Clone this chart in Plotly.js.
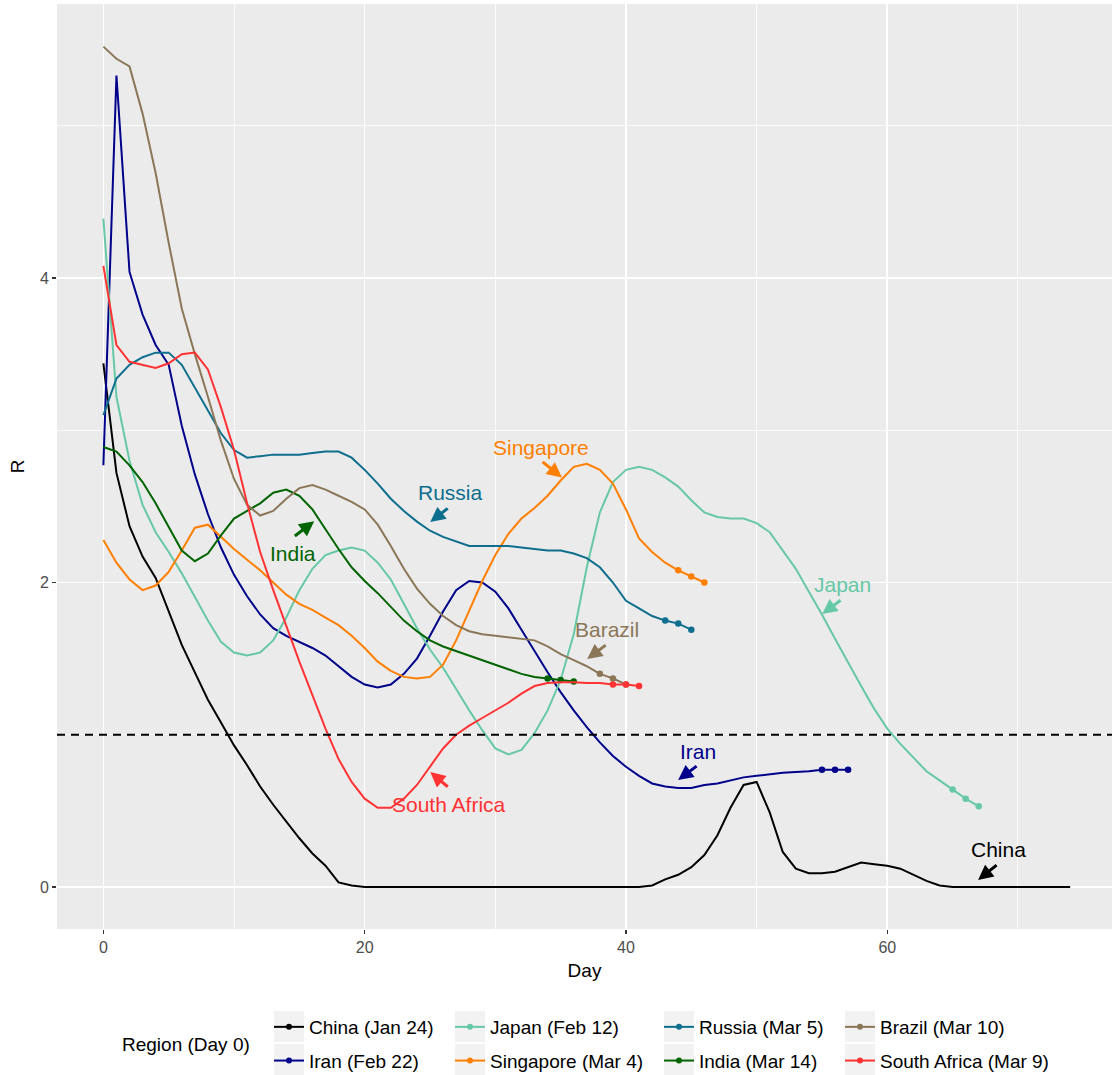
<!DOCTYPE html>
<html>
<head>
<meta charset="utf-8">
<script src="https://cdn.plot.ly/plotly-3.0.1.min.js"></script>
<style>html,body{margin:0;padding:0;background:#fff;}#chart{width:1112px;height:1075px;}</style>
</head>
<body>
<div id="chart"></div>
<script>
// ---- data (R by day since Day 0) ----
const regions = ["China", "Iran", "Japan", "Singapore", "Russia", "India", "Brazil", "South Africa"];
const legendLabels = ["China (Jan 24)", "Iran (Feb 22)", "Japan (Feb 12)", "Singapore (Mar 4)", "Russia (Mar 5)", "India (Mar 14)", "Brazil (Mar 10)", "South Africa (Mar 9)"];

const chinaR = [3.44,2.72,2.37,2.17,2.03,1.81,1.59,1.41,1.23,1.08,0.93,0.80,0.66,0.54,0.43,0.32,0.22,0.14,0.03,0.01,
  0,0,0,0,0,0,0,0,0,0,0,0,0,0,0,0,0,0,0,0,0,0,
  0.01,0.05,0.08,0.13,0.21,0.34,0.52,0.67,0.69,0.49,0.23,0.12,0.09,0.09,0.10,0.13,0.16,0.15,0.14,0.12,0.08,0.04,0.01,
  0,0,0,0,0,0,0,0,0,0];
const iranR = [2.77,5.33,4.04,3.76,3.56,3.43,3.03,2.71,2.45,2.23,2.05,1.91,1.79,1.70,1.65,1.61,1.57,1.52,1.45,1.38,
  1.33,1.31,1.33,1.40,1.50,1.65,1.81,1.95,2.01,2.00,1.94,1.83,1.69,1.55,1.41,1.28,1.16,1.05,0.95,0.86,
  0.79,0.73,0.68,0.66,0.65,0.65,0.67,0.68,0.70,0.72,0.73,0.74,0.75,0.755,0.76,0.77,0.77,0.77];
const japanR = [4.39,3.22,2.80,2.51,2.33,2.20,2.06,1.90,1.75,1.61,1.54,1.52,1.54,1.62,1.77,1.95,2.09,2.18,2.21,2.23,
  2.21,2.13,2.02,1.86,1.70,1.56,1.44,1.30,1.16,1.03,0.91,0.87,0.90,1.01,1.16,1.36,1.66,2.10,2.46,2.66,
  2.74,2.76,2.74,2.69,2.63,2.54,2.46,2.43,2.42,2.42,2.39,2.33,2.21,2.09,1.94,1.79,1.63,1.47,1.32,1.17,
  1.04,0.94,0.85,0.76,0.70,0.64,0.58,0.53];
const singaporeR = [2.28,2.13,2.02,1.95,1.98,2.07,2.21,2.36,2.38,2.30,2.22,2.15,2.08,2.00,1.92,1.86,1.82,1.77,1.72,1.65,
  1.57,1.48,1.42,1.38,1.37,1.38,1.46,1.62,1.82,2.01,2.18,2.32,2.42,2.49,2.57,2.67,2.76,2.78,2.74,2.65,
  2.48,2.29,2.20,2.13,2.08,2.04,2.00];
const russiaR = [3.10,3.34,3.43,3.48,3.51,3.51,3.43,3.28,3.13,2.98,2.87,2.82,2.83,2.84,2.84,2.84,2.85,2.86,2.86,2.82,
  2.74,2.65,2.55,2.47,2.40,2.34,2.30,2.27,2.24,2.24,2.24,2.24,2.23,2.22,2.21,2.21,2.19,2.16,2.10,2.00,
  1.88,1.83,1.78,1.75,1.73,1.69];
const indiaR = [2.89,2.86,2.77,2.66,2.52,2.36,2.21,2.14,2.19,2.31,2.42,2.47,2.52,2.59,2.61,2.57,2.48,2.35,2.22,2.10,
  2.01,1.93,1.84,1.75,1.68,1.62,1.58,1.55,1.52,1.49,1.46,1.43,1.40,1.38,1.37,1.36,1.35];
const brazilR = [5.52,5.44,5.39,5.08,4.69,4.23,3.80,3.50,3.22,2.93,2.68,2.51,2.44,2.47,2.55,2.62,2.64,2.61,2.57,2.53,
  2.48,2.38,2.24,2.09,1.96,1.86,1.78,1.72,1.68,1.66,1.65,1.64,1.63,1.62,1.58,1.53,1.49,1.45,1.40,1.37,1.33];
const southAfricaR = [4.08,3.56,3.45,3.43,3.41,3.44,3.50,3.51,3.40,3.15,2.87,2.52,2.20,1.95,1.71,1.48,1.26,1.04,0.84,0.69,
  0.58,0.52,0.52,0.58,0.67,0.79,0.91,1.00,1.06,1.11,1.16,1.21,1.27,1.32,1.34,1.345,1.345,1.34,1.34,1.33,
  1.33,1.32];
const seriesR = [chinaR, iranR, japanR, singaporeR, russiaR, indiaR, brazilR, southAfricaR];
const showEndPoints = [false, true, true, true, true, true, true, true];
const thresholdR = 1;
const xTicks = [0, 20, 40, 60];
const yTicks = [0, 2, 4];
const legendTitle = "Region (Day 0)";

// ---- styles ----
const colors = ["#000000", "#00008B", "#66C8A6", "#FF7F00", "#0E6E8E", "#006400", "#8B7758", "#FF3333"];
const FONT = "Liberation Sans, Arial, sans-serif";
// legend column of each region (ggplot fills columns top-to-bottom)
const legendColumn = ["legend", "legend", "legend2", "legend2", "legend3", "legend3", "legend4", "legend4"];
const colX = [271, 452, 661, 842];   // px positions of legend key boxes
const PLOT_L = 57, PLOT_W = 1055, PLOT_T = 4, PLOT_H = 925;

const traces = [];
regions.forEach((r, i) => {
  const ys = seriesR[i];
  const xs = ys.map((_, k) => k);
  traces.push({
    x: xs, y: ys, type: "scatter", mode: "lines", name: legendLabels[i],
    line: {color: colors[i], width: 2}, showlegend: false
  });
  if (showEndPoints[i]) {
    traces.push({
      x: xs.slice(-3), y: ys.slice(-3), type: "scatter", mode: "markers", name: legendLabels[i],
      marker: {color: colors[i], size: 6.5}, showlegend: false
    });
  }
});
regions.forEach((r, i) => {
  traces.push({
    x: [null], y: [null], type: "scatter", mode: "lines+markers", name: legendLabels[i],
    line: {color: colors[i], width: 2}, marker: {color: colors[i], size: 6}, showlegend: true,
    legend: legendColumn[i], legendgroup: "g" + i
  });
});

// label annotations: [regionIndex, label, textX, textY, tailX, tailY, headX, headY]
const labels = [
  [3, "Singapore", 33.5, 2.89, 33.5, 2.80, 35.1, 2.69],
  [4, "Russia", 26.55, 2.594, 26.47, 2.495, 25.02, 2.397],
  [5, "India", 14.54, 2.193, 14.54, 2.298, 16.14, 2.403],
  [6, "Barazil", 38.56, 1.694, 38.56, 1.596, 37.03, 1.497],
  [2, "Japan", 56.54, 1.989, 56.54, 1.891, 55.01, 1.793],
  [1, "Iran", 45.52, 0.893, 45.52, 0.801, 43.99, 0.703],
  [7, "South Africa", 26.47, 0.545, 26.47, 0.650, 25.02, 0.755],
  [0, "China", 68.48, 0.243, 68.48, 0.151, 66.95, 0.046]
];
const annotations = [];
labels.forEach(l => {
  annotations.push({x: l[2], y: l[3], xref: "x", yref: "y", text: l[1], showarrow: false,
    font: {family: FONT, size: 21, color: colors[l[0]]}, xanchor: "center", yanchor: "middle"});
  annotations.push({x: l[6], y: l[7], ax: l[4], ay: l[5], xref: "x", yref: "y", axref: "x", ayref: "y",
    text: "", showarrow: true, arrowhead: 2, arrowsize: 1, arrowwidth: 3, arrowcolor: colors[l[0]],
    standoff: 0, startstandoff: 0, font: {size: 1}});
});
const px2paperX = p => (p - PLOT_L) / PLOT_W;
const px2paperY = p => (PLOT_T + PLOT_H - p) / PLOT_H;
annotations.push({x: px2paperX(186), y: px2paperY(1044), xref: "paper", yref: "paper", text: legendTitle, showarrow: false,
  font: {family: FONT, size: 19, color: "#000"}, xanchor: "center", yanchor: "middle"});

// grey key backgrounds (ggplot legend.key)
const shapes = [{type: "line", xref: "x domain", x0: 0, x1: 1, yref: "y", y0: thresholdR, y1: thresholdR,
  line: {color: "#000", width: 1.8, dash: "8px,6px"}, layer: "above"}];
colX.forEach(cx => {
  [[1011, 1042], [1044, 1075]].forEach(([top, bot]) => {
    shapes.push({type: "rect", xref: "paper", yref: "paper",
      x0: px2paperX(cx + 3), x1: px2paperX(cx + 33), y0: px2paperY(bot), y1: px2paperY(top),
      fillcolor: "#F2F2F2", line: {width: 0}, layer: "below"});
  });
});

function legendCol(k) {
  return {
    orientation: "v", x: px2paperX(colX[k] - 2), xanchor: "left", y: px2paperY(1008), yanchor: "top",
    font: {family: FONT, size: 19, color: "#000"}, bgcolor: "rgba(0,0,0,0)",
    tracegroupgap: 6, traceorder: "grouped", itemclick: false
  };
}

const layout = {
  width: 1112, height: 1075,
  margin: {l: PLOT_L, r: 1112 - PLOT_L - PLOT_W, t: PLOT_T, b: 1075 - PLOT_T - PLOT_H, autoexpand: false},
  paper_bgcolor: "#ffffff", plot_bgcolor: "#EBEBEB",
  font: {family: FONT, size: 16, color: "#000"},
  xaxis: {
    range: [-3.55, 77.2], tickvals: xTicks, ticktext: xTicks.map(String),
    showgrid: true, gridcolor: "#ffffff", gridwidth: 1.6, zeroline: false,
    minor: {dtick: 10, tick0: 0, showgrid: true, gridcolor: "#ffffff", gridwidth: 0.8},
    ticks: "outside", ticklen: 4, tickwidth: 1.3, tickcolor: "#333333",
    tickfont: {family: FONT, size: 16, color: "#4D4D4D"},
    title: {text: "Day", font: {family: FONT, size: 19, color: "#000"}, standoff: 8},
    showline: false, fixedrange: true, automargin: false
  },
  yaxis: {
    range: [-0.276, 5.80], tickvals: yTicks, ticktext: yTicks.map(String),
    showgrid: true, gridcolor: "#ffffff", gridwidth: 1.6, zeroline: false,
    minor: {dtick: 1, tick0: 0, showgrid: true, gridcolor: "#ffffff", gridwidth: 0.8},
    ticks: "outside", ticklen: 4, tickwidth: 1.3, tickcolor: "#333333",
    tickfont: {family: FONT, size: 16, color: "#4D4D4D"},
    title: {text: "R", font: {family: FONT, size: 19, color: "#000"}, standoff: 10},
    showline: false, fixedrange: true, automargin: false
  },
  shapes: shapes,
  annotations: annotations,
  showlegend: true,
  legend: legendCol(0), legend2: legendCol(1), legend3: legendCol(2), legend4: legendCol(3),
  hovermode: false
};

Plotly.newPlot("chart", traces, layout, {displayModeBar: false, staticPlot: true});
</script>
</body>
</html>
